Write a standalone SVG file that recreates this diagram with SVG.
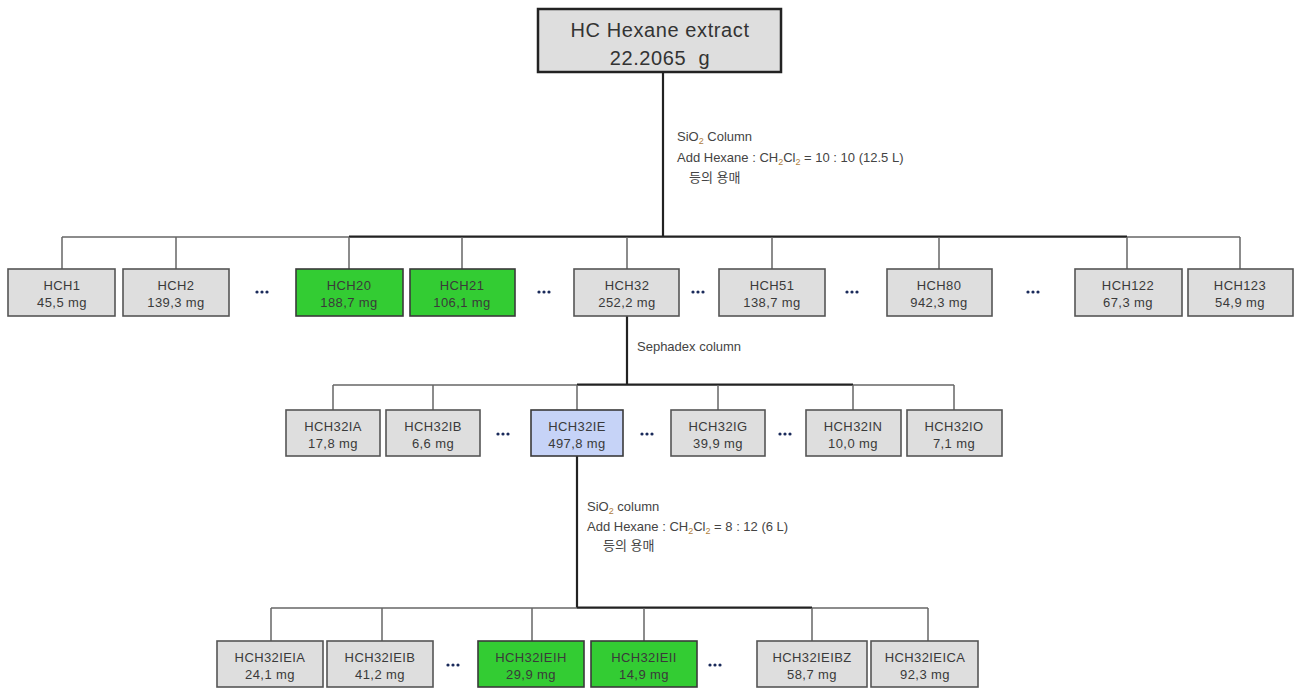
<svg xmlns="http://www.w3.org/2000/svg" width="1295" height="690" viewBox="0 0 1295 690">
<style>
.bx{fill:#dedede;stroke:#555;stroke-width:1.6}
.gr{fill:#33cc33;stroke:#3a3a3a;stroke-width:1.6}
.bl{fill:#c6d3f7;stroke:#3a3a3a;stroke-width:1.6}
.top{fill:#dedede;stroke:#222;stroke-width:2.5}
.t{font-family:"Liberation Sans",Arial,sans-serif;font-size:13px;letter-spacing:0.4px;fill:#3a3a3a;text-anchor:middle}
.tt{font-family:"Liberation Sans",Arial,sans-serif;font-size:20px;letter-spacing:0.6px;fill:#333;text-anchor:middle;white-space:pre}
.lb{font-family:"Liberation Sans","Noto Sans CJK KR",sans-serif;font-size:13px;fill:#444}
.sub{font-size:9px;fill:#b08040}
.ln{stroke:#666;stroke-width:1.5;fill:none}
.mn{stroke:#222;stroke-width:2.2;fill:none}
.d{fill:#1a2a5a}
</style>
<g id="connectors">
<line class="mn" x1="663" y1="72" x2="663" y2="237"/>
<line class="ln" x1="62" y1="237" x2="1240" y2="237"/>
<line class="mn" x1="349" y1="236.5" x2="1127" y2="236.5"/>
<line class="ln" x1="62" y1="237" x2="62" y2="269"/>
<line class="ln" x1="176" y1="237" x2="176" y2="269"/>
<line class="ln" x1="349" y1="237" x2="349" y2="269"/>
<line class="ln" x1="462" y1="237" x2="462" y2="269"/>
<line class="ln" x1="627" y1="237" x2="627" y2="269"/>
<line class="ln" x1="772" y1="237" x2="772" y2="269"/>
<line class="ln" x1="939" y1="237" x2="939" y2="269"/>
<line class="ln" x1="1127" y1="237" x2="1127" y2="269"/>
<line class="ln" x1="1240" y1="237" x2="1240" y2="269"/>
<line class="mn" x1="627" y1="316" x2="627" y2="385"/>
<line class="ln" x1="333" y1="385" x2="954" y2="385"/>
<line class="mn" x1="577" y1="384.5" x2="853" y2="384.5"/>
<line class="ln" x1="333" y1="385" x2="333" y2="410"/>
<line class="ln" x1="433" y1="385" x2="433" y2="410"/>
<line class="ln" x1="577" y1="385" x2="577" y2="410"/>
<line class="ln" x1="718" y1="385" x2="718" y2="410"/>
<line class="ln" x1="853" y1="385" x2="853" y2="410"/>
<line class="ln" x1="954" y1="385" x2="954" y2="410"/>
<line class="mn" x1="577" y1="456" x2="577" y2="608"/>
<line class="ln" x1="271" y1="608" x2="928" y2="608"/>
<line class="mn" x1="577" y1="607.5" x2="812" y2="607.5"/>
<line class="ln" x1="271" y1="608" x2="271" y2="641"/>
<line class="ln" x1="382" y1="608" x2="382" y2="641"/>
<line class="ln" x1="532" y1="608" x2="532" y2="641"/>
<line class="ln" x1="644" y1="608" x2="644" y2="641"/>
<line class="ln" x1="812" y1="608" x2="812" y2="641"/>
<line class="ln" x1="928" y1="608" x2="928" y2="641"/>
</g>
<g id="labels">
<text class="lb" x="677" y="141">SiO<tspan class="sub" dy="3">2</tspan><tspan dy="-3"> Column</tspan></text>
<text class="lb" x="677" y="162">Add Hexane : CH<tspan class="sub" dy="3">2</tspan><tspan dy="-3">Cl</tspan><tspan class="sub" dy="3">2</tspan><tspan dy="-3"> = 10 : 10 (12.5 L)</tspan></text>
<text class="lb" x="689" y="182">등의 용매</text>
<text class="lb" x="637" y="351">Sephadex column</text>
<text class="lb" x="587" y="511">SiO<tspan class="sub" dy="3">2</tspan><tspan dy="-3"> column</tspan></text>
<text class="lb" x="587" y="531">Add Hexane : CH<tspan class="sub" dy="3">2</tspan><tspan dy="-3">Cl</tspan><tspan class="sub" dy="3">2</tspan><tspan dy="-3"> = 8 : 12 (6 L)</tspan></text>
<text class="lb" x="603" y="550">등의 용매</text>
</g>
<g id="dots">
<g transform="translate(262,292)"><circle class="d" cx="-5" cy="0" r="1.6"/><circle class="d" cx="0" cy="0" r="1.6"/><circle class="d" cx="5" cy="0" r="1.6"/></g>
<g transform="translate(544,292)"><circle class="d" cx="-5" cy="0" r="1.6"/><circle class="d" cx="0" cy="0" r="1.6"/><circle class="d" cx="5" cy="0" r="1.6"/></g>
<g transform="translate(698,292)"><circle class="d" cx="-5" cy="0" r="1.6"/><circle class="d" cx="0" cy="0" r="1.6"/><circle class="d" cx="5" cy="0" r="1.6"/></g>
<g transform="translate(852,292)"><circle class="d" cx="-5" cy="0" r="1.6"/><circle class="d" cx="0" cy="0" r="1.6"/><circle class="d" cx="5" cy="0" r="1.6"/></g>
<g transform="translate(1033,292)"><circle class="d" cx="-5" cy="0" r="1.6"/><circle class="d" cx="0" cy="0" r="1.6"/><circle class="d" cx="5" cy="0" r="1.6"/></g>
<g transform="translate(503,434)"><circle class="d" cx="-5" cy="0" r="1.6"/><circle class="d" cx="0" cy="0" r="1.6"/><circle class="d" cx="5" cy="0" r="1.6"/></g>
<g transform="translate(647,434)"><circle class="d" cx="-5" cy="0" r="1.6"/><circle class="d" cx="0" cy="0" r="1.6"/><circle class="d" cx="5" cy="0" r="1.6"/></g>
<g transform="translate(785,434)"><circle class="d" cx="-5" cy="0" r="1.6"/><circle class="d" cx="0" cy="0" r="1.6"/><circle class="d" cx="5" cy="0" r="1.6"/></g>
<g transform="translate(453,665)"><circle class="d" cx="-5" cy="0" r="1.6"/><circle class="d" cx="0" cy="0" r="1.6"/><circle class="d" cx="5" cy="0" r="1.6"/></g>
<g transform="translate(715,665)"><circle class="d" cx="-5" cy="0" r="1.6"/><circle class="d" cx="0" cy="0" r="1.6"/><circle class="d" cx="5" cy="0" r="1.6"/></g>
</g>
<g id="root"><rect class="top" x="538" y="9" width="243" height="63"/><text class="tt" x="660" y="37">HC Hexane extract</text><text class="tt" x="660" y="65">22.2065  g</text></g>
<g id="HCH1"><rect class="bx" x="8" y="269" width="107" height="47"/><text class="t" x="62" y="290">HCH1</text><text class="t" x="62" y="307">45,5 mg</text></g>
<g id="HCH2"><rect class="bx" x="123" y="269" width="106" height="47"/><text class="t" x="176" y="290">HCH2</text><text class="t" x="176" y="307">139,3 mg</text></g>
<g id="HCH20"><rect class="gr" x="296" y="269" width="107" height="47"/><text class="t" x="349" y="290">HCH20</text><text class="t" x="349" y="307">188,7 mg</text></g>
<g id="HCH21"><rect class="gr" x="410" y="269" width="105" height="47"/><text class="t" x="462" y="290">HCH21</text><text class="t" x="462" y="307">106,1 mg</text></g>
<g id="HCH32"><rect class="bx" x="574" y="269" width="105" height="47"/><text class="t" x="627" y="290">HCH32</text><text class="t" x="627" y="307">252,2 mg</text></g>
<g id="HCH51"><rect class="bx" x="719" y="269" width="106" height="47"/><text class="t" x="772" y="290">HCH51</text><text class="t" x="772" y="307">138,7 mg</text></g>
<g id="HCH80"><rect class="bx" x="887" y="269" width="105" height="47"/><text class="t" x="939" y="290">HCH80</text><text class="t" x="939" y="307">942,3 mg</text></g>
<g id="HCH122"><rect class="bx" x="1075" y="269" width="107" height="47"/><text class="t" x="1128" y="290">HCH122</text><text class="t" x="1128" y="307">67,3 mg</text></g>
<g id="HCH123"><rect class="bx" x="1188" y="269" width="105" height="47"/><text class="t" x="1240" y="290">HCH123</text><text class="t" x="1240" y="307">54,9 mg</text></g>
<g id="HCH32IA"><rect class="bx" x="286" y="410" width="94" height="46"/><text class="t" x="333" y="431">HCH32IA</text><text class="t" x="333" y="448">17,8 mg</text></g>
<g id="HCH32IB"><rect class="bx" x="386" y="410" width="94" height="46"/><text class="t" x="433" y="431">HCH32IB</text><text class="t" x="433" y="448">6,6 mg</text></g>
<g id="HCH32IE"><rect class="bl" x="531" y="410" width="92" height="46"/><text class="t" x="577" y="431">HCH32IE</text><text class="t" x="577" y="448">497,8 mg</text></g>
<g id="HCH32IG"><rect class="bx" x="671" y="410" width="94" height="46"/><text class="t" x="718" y="431">HCH32IG</text><text class="t" x="718" y="448">39,9 mg</text></g>
<g id="HCH32IN"><rect class="bx" x="806" y="410" width="95" height="46"/><text class="t" x="853" y="431">HCH32IN</text><text class="t" x="853" y="448">10,0 mg</text></g>
<g id="HCH32IO"><rect class="bx" x="907" y="410" width="95" height="46"/><text class="t" x="954" y="431">HCH32IO</text><text class="t" x="954" y="448">7,1 mg</text></g>
<g id="HCH32IEIA"><rect class="bx" x="217" y="641" width="106" height="46"/><text class="t" x="270" y="662">HCH32IEIA</text><text class="t" x="270" y="679">24,1 mg</text></g>
<g id="HCH32IEIB"><rect class="bx" x="327" y="641" width="106" height="46"/><text class="t" x="380" y="662">HCH32IEIB</text><text class="t" x="380" y="679">41,2 mg</text></g>
<g id="HCH32IEIH"><rect class="gr" x="478" y="641" width="106" height="46"/><text class="t" x="531" y="662">HCH32IEIH</text><text class="t" x="531" y="679">29,9 mg</text></g>
<g id="HCH32IEII"><rect class="gr" x="591" y="641" width="106" height="46"/><text class="t" x="644" y="662">HCH32IEII</text><text class="t" x="644" y="679">14,9 mg</text></g>
<g id="HCH32IEIBZ"><rect class="bx" x="757" y="641" width="110" height="46"/><text class="t" x="812" y="662">HCH32IEIBZ</text><text class="t" x="812" y="679">58,7 mg</text></g>
<g id="HCH32IEICA"><rect class="bx" x="871" y="641" width="107" height="46"/><text class="t" x="925" y="662">HCH32IEICA</text><text class="t" x="925" y="679">92,3 mg</text></g>
</svg>
